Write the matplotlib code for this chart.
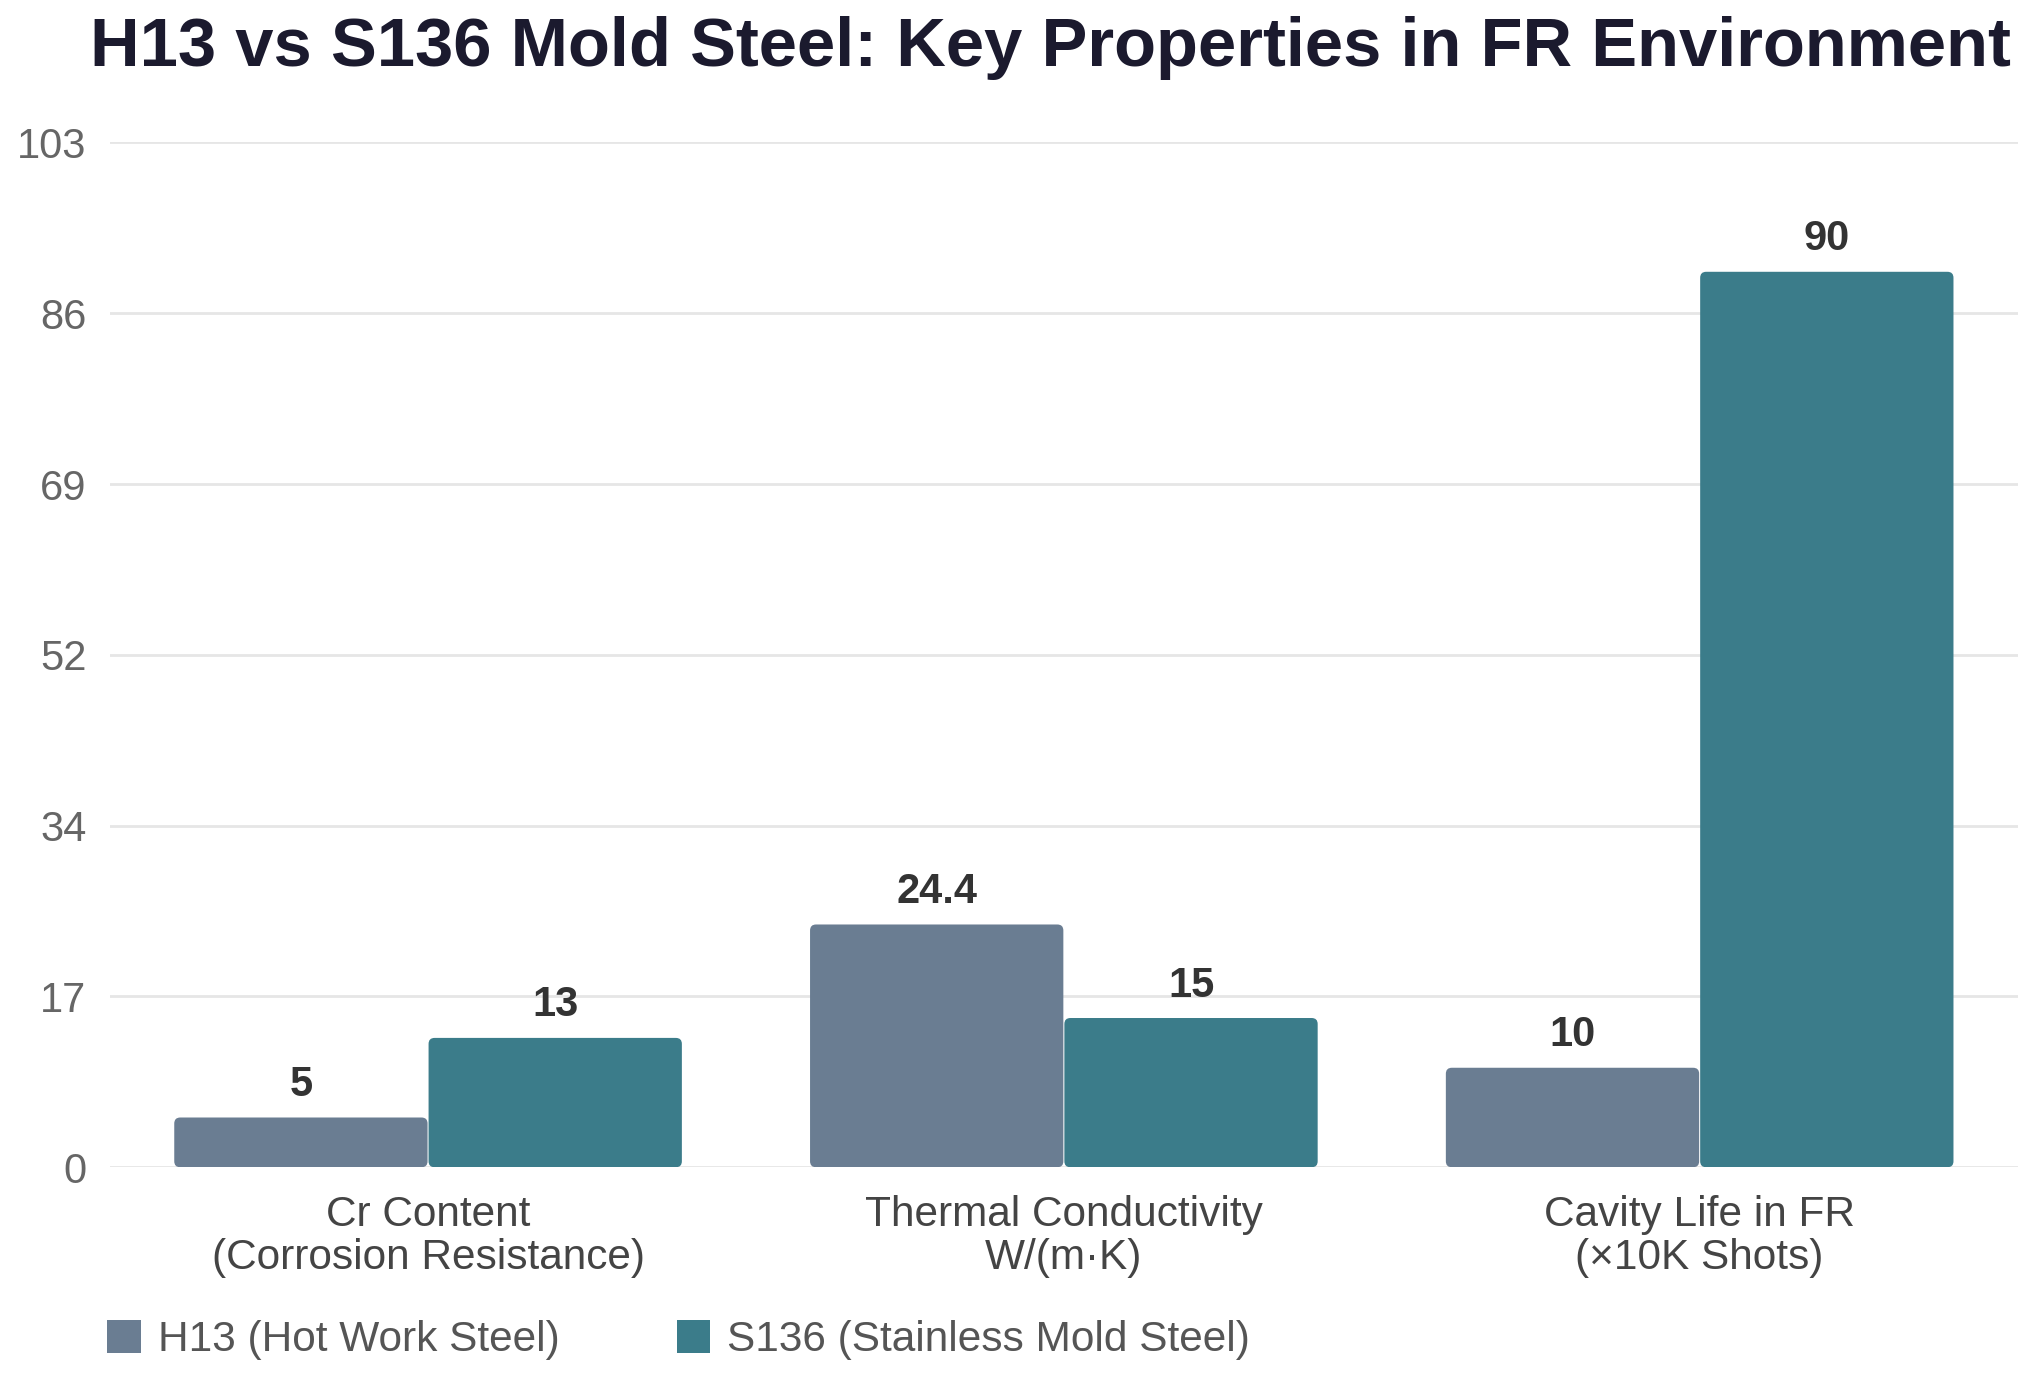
"""H13 vs S136 mold steel grouped bar chart."""
import matplotlib
matplotlib.use("Agg")
import matplotlib.pyplot as plt
import numpy as np
from matplotlib.patches import FancyBboxPatch, Patch

categories = ["Cr Content\n(Corrosion Resistance)", "Thermal Conductivity\nW/(m·K)", "Cavity Life in FR\n(×10K Shots)"]
h13_values = [5, 24.4, 10]
s136_values = [13, 15, 90]
h13_labels = ["5", "24.4", "10"]
s136_labels = ["13", "15", "90"]
series_names = ["H13 (Hot Work Steel)", "S136 (Stainless Mold Steel)"]
y_max = 103

plt.rcParams["font.family"] = ["Liberation Sans", "DejaVu Sans"]

W, H = 20.4, 13.83
fig = plt.figure(figsize=(W, H), dpi=100)
pos = [0.054, 0.156, 0.935, 0.741]
ax = fig.add_axes(pos)

x = np.arange(len(categories))
w = 0.4
c_h13 = "#6a7d92"
c_s136 = "#3b7c8a"
b1 = ax.bar(x - w / 2, h13_values, w, color=c_h13, zorder=3)
b2 = ax.bar(x + w / 2, s136_values, w, color=c_s136, zorder=3)

# swap the plain rectangles for slightly rounded ones
px_x = pos[2] * W * 100 / 3.0
px_y = pos[3] * H * 100 / y_max
radius = 6 / px_x
for bars in (b1, b2):
    for bar in bars:
        bx, by = bar.get_x() + 0.0008, bar.get_y()
        bw, bh = bar.get_width() - 0.0016, bar.get_height()
        patch = FancyBboxPatch((bx, by), bw, bh,
                               boxstyle=f"round,pad=0,rounding_size={radius}",
                               mutation_aspect=px_x / px_y,
                               facecolor=bar.get_facecolor(), edgecolor="none", zorder=3)
        ax.add_patch(patch)
        bar.set_visible(False)

for bars, labels in ((b1, h13_labels), (b2, s136_labels)):
    for bar, lab in zip(bars, labels):
        ax.annotate(lab, (bar.get_x() + bar.get_width() / 2, bar.get_height()),
                    xytext=(0, 9), textcoords="offset points", ha="center", va="bottom",
                    fontsize=30, fontweight="bold", color="#333333")

ax.set_xlim(-0.5, 2.5)
ax.set_ylim(0, y_max)
ticks = np.linspace(0, y_max, 7)
ax.set_yticks(ticks)
ax.set_yticklabels([str(int(np.floor(t + 0.5))) for t in ticks])
ax.set_xticks(x)
ax.set_xticklabels(categories, fontsize=30.5, color="#444444", linespacing=1.1)
ax.tick_params(axis="y", labelsize=30, labelcolor="#666666", length=0, pad=17)
ax.tick_params(axis="x", length=0, pad=20)
ax.grid(axis="y", color="#e6e6e6", linewidth=2, zorder=0)
for s in ax.spines.values():
    s.set_visible(False)

fig.text(0.515, 0.965, "H13 vs S136 Mold Steel: Key Properties in FR Environment",
         ha="center", va="center", fontsize=49.5, fontweight="bold", color="#1b1a2e")

handles = [Patch(facecolor=c_h13), Patch(facecolor=c_s136)]
fig.legend(handles=handles, labels=series_names, loc="lower left", bbox_to_anchor=(0.034, -0.011),
           ncol=2, frameon=False, fontsize=30.5, labelcolor="#555555", handlelength=0.8,
           handleheight=0.8, columnspacing=2.75, handletextpad=0.4)

fig.savefig("out.png", dpi=100, facecolor="white")
